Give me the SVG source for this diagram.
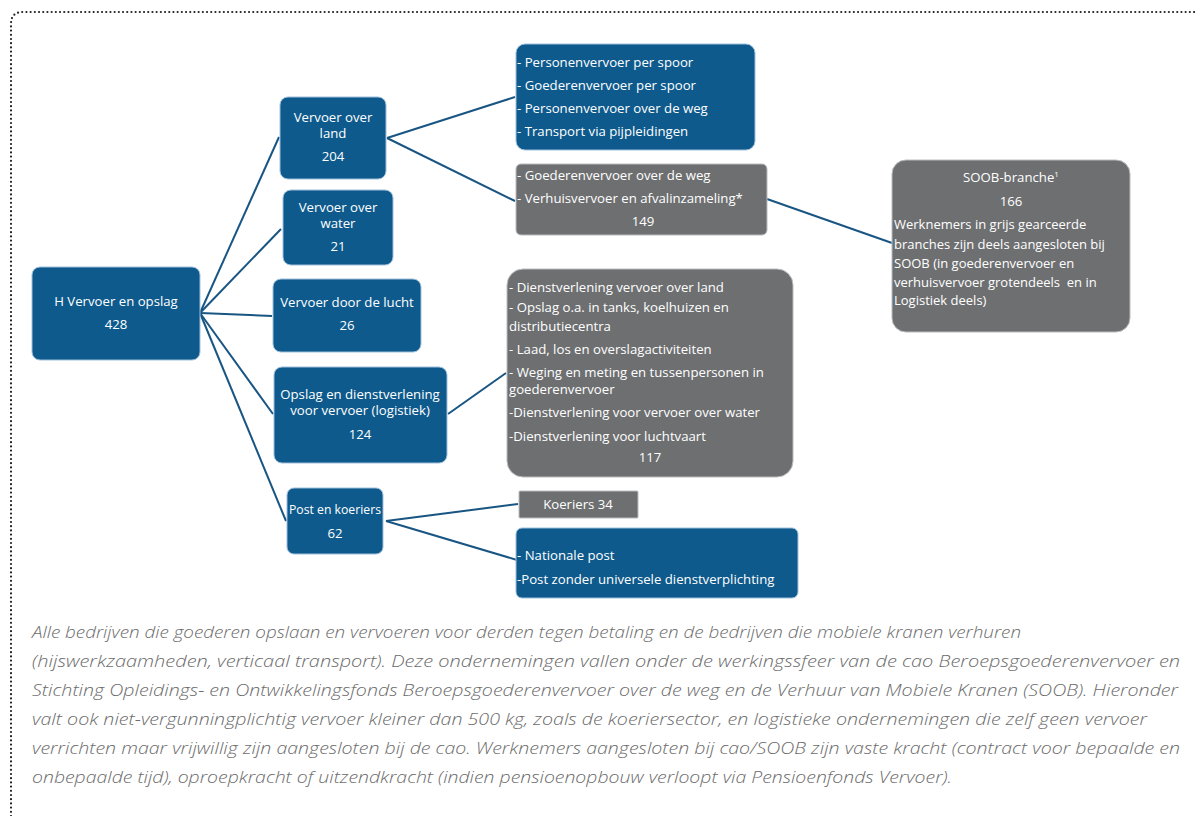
<svg xmlns="http://www.w3.org/2000/svg" width="1195" height="816" viewBox="0 0 1195 816">
<style>
.blue{fill:#0e5a8c;stroke:#9fbfdc;stroke-width:1}
.grey{fill:#6e6f71;stroke:#b9bcbf;stroke-width:1}
.t{font-family:"Open Sans","Liberation Sans",sans-serif;font-size:13.2px;fill:#ffffff}
.c{text-anchor:middle}
.cap{font-family:"Open Sans","Liberation Sans",sans-serif;font-size:17px;font-style:italic;font-weight:300;fill:#6b6b6b}
.con{stroke:#195583;stroke-width:2;fill:none}
</style>
<rect width="1195" height="816" fill="#ffffff"/>
<path d="M11,816 L11,24 Q11,12 23,12 L1195,12" fill="none" stroke="#222" stroke-width="2.2" stroke-linecap="round" stroke-dasharray="0 4.2"/>
<g id="connectors">
<line class="con" x1="200" y1="313" x2="279" y2="137"/>
<line class="con" x1="200" y1="313" x2="281" y2="229"/>
<line class="con" x1="200" y1="313" x2="272" y2="316"/>
<line class="con" x1="200" y1="313" x2="273" y2="414"/>
<line class="con" x1="200" y1="313" x2="286" y2="521"/>
<line class="con" x1="387" y1="138" x2="515" y2="97"/>
<line class="con" x1="387" y1="138" x2="515" y2="201"/>
<line class="con" x1="767" y1="199" x2="892" y2="243"/>
<line class="con" x1="448" y1="414" x2="506" y2="373"/>
<line class="con" x1="386" y1="521" x2="518" y2="504"/>
<line class="con" x1="386" y1="521" x2="517" y2="560"/>
</g>
<g id="root">
<rect class="blue" x="32" y="267" width="168" height="93" rx="8"/>
<text class="t c" x="116" y="306">H Vervoer en opslag</text>
<text class="t c" x="116" y="329">428</text>
</g>
<g id="land">
<rect class="blue" x="280" y="97" width="106" height="82" rx="8"/>
<text class="t c" x="333" y="122">Vervoer over</text>
<text class="t c" x="333" y="138">land</text>
<text class="t c" x="333" y="161">204</text>
</g>
<g id="water">
<rect class="blue" x="283" y="190" width="110" height="75" rx="8"/>
<text class="t c" x="338" y="212">Vervoer over</text>
<text class="t c" x="338" y="228">water</text>
<text class="t c" x="338" y="251">21</text>
</g>
<g id="lucht">
<rect class="blue" x="273" y="279" width="148" height="73" rx="8"/>
<text class="t c" x="347" y="307">Vervoer door de lucht</text>
<text class="t c" x="347" y="330">26</text>
</g>
<g id="opslag">
<rect class="blue" x="274" y="367" width="173" height="96" rx="8"/>
<text class="t c" x="360" y="399">Opslag en dienstverlening</text>
<text class="t c" x="360" y="415">voor vervoer (logistiek)</text>
<text class="t c" x="360" y="439">124</text>
</g>
<g id="post">
<rect class="blue" x="287" y="488" width="96" height="66" rx="7"/>
<text class="t c" x="335" y="514" textLength="92" lengthAdjust="spacingAndGlyphs">Post en koeriers</text>
<text class="t c" x="335" y="538">62</text>
</g>
<g id="personen">
<rect class="blue" x="516" y="44" width="239" height="106" rx="9"/>
<text class="t" x="517" y="67">- Personenvervoer per spoor</text>
<text class="t" x="517" y="90">- Goederenvervoer per spoor</text>
<text class="t" x="517" y="113">- Personenvervoer over de weg</text>
<text class="t" x="517" y="136">- Transport via pijpleidingen</text>
</g>
<g id="goederen">
<rect class="grey" x="516" y="164" width="251" height="71" rx="5"/>
<text class="t" x="517" y="180">- Goederenvervoer over de weg</text>
<text class="t" x="517" y="203">- Verhuisvervoer en afvalinzameling*</text>
<text class="t c" x="643" y="226">149</text>
</g>
<g id="soob">
<rect class="grey" x="892" y="160" width="238" height="172" rx="14"/>
<text class="t c" x="1011" y="182">SOOB-branche<tspan font-size="8" dy="-5">1</tspan></text>
<text class="t c" x="1011" y="206">166</text>
<text class="t" x="894" y="229" style="font-size:13px">Werknemers in grijs gearceerde</text>
<text class="t" x="894" y="249" style="font-size:13px">branches zijn deels aangesloten bij</text>
<text class="t" x="894" y="268" style="font-size:13px">SOOB (in goederenvervoer en</text>
<text class="t" x="894" y="287" style="font-size:13px" xml:space="preserve">verhuisvervoer grotendeels  en in</text>
<text class="t" x="894" y="305" style="font-size:13px">Logistiek deels)</text>
</g>
<g id="dienst">
<rect class="grey" x="507" y="269" width="286" height="208" rx="16"/>
<text class="t" x="509" y="292">- Dienstverlening vervoer over land</text>
<text class="t" x="509" y="312">- Opslag o.a. in tanks, koelhuizen en</text>
<text class="t" x="509" y="331">distributiecentra</text>
<text class="t" x="509" y="354">- Laad, los en overslagactiviteiten</text>
<text class="t" x="509" y="377">- Weging en meting en tussenpersonen in</text>
<text class="t" x="509" y="394">goederenvervoer</text>
<text class="t" x="509" y="417">-Dienstverlening voor vervoer over water</text>
<text class="t" x="509" y="441">-Dienstverlening voor luchtvaart</text>
<text class="t c" x="650" y="462">117</text>
</g>
<g id="koeriers">
<rect class="grey" x="519" y="491" width="119" height="27" rx="1"/>
<text class="t c" x="578" y="509">Koeriers 34</text>
</g>
<g id="nationale">
<rect class="blue" x="516" y="528" width="282" height="70" rx="6"/>
<text class="t" x="517" y="560">- Nationale post</text>
<text class="t" x="517" y="584">-Post zonder universele dienstverplichting</text>
</g>
<g id="caption">
<text class="cap" x="32" y="638" textLength="989" lengthAdjust="spacingAndGlyphs">Alle bedrijven die goederen opslaan en vervoeren voor derden tegen betaling en de bedrijven die mobiele kranen verhuren</text>
<text class="cap" x="32" y="667" textLength="1148" lengthAdjust="spacingAndGlyphs">(hijswerkzaamheden, verticaal transport). Deze ondernemingen vallen onder de werkingssfeer van de cao Beroepsgoederenvervoer en</text>
<text class="cap" x="32" y="696" textLength="1146" lengthAdjust="spacingAndGlyphs">Stichting Opleidings- en Ontwikkelingsfonds Beroepsgoederenvervoer over de weg en de Verhuur van Mobiele Kranen (SOOB). Hieronder</text>
<text class="cap" x="32" y="725" textLength="1115" lengthAdjust="spacingAndGlyphs">valt ook niet-vergunningplichtig vervoer kleiner dan 500 kg, zoals de koeriersector, en logistieke ondernemingen die zelf geen vervoer</text>
<text class="cap" x="32" y="754" textLength="1148" lengthAdjust="spacingAndGlyphs">verrichten maar vrijwillig zijn aangesloten bij de cao. Werknemers aangesloten bij cao/SOOB zijn vaste kracht (contract voor bepaalde en</text>
<text class="cap" x="32" y="783" textLength="920" lengthAdjust="spacingAndGlyphs">onbepaalde tijd), oproepkracht of uitzendkracht (indien pensioenopbouw verloopt via Pensioenfonds Vervoer).</text>
</g>
</svg>
